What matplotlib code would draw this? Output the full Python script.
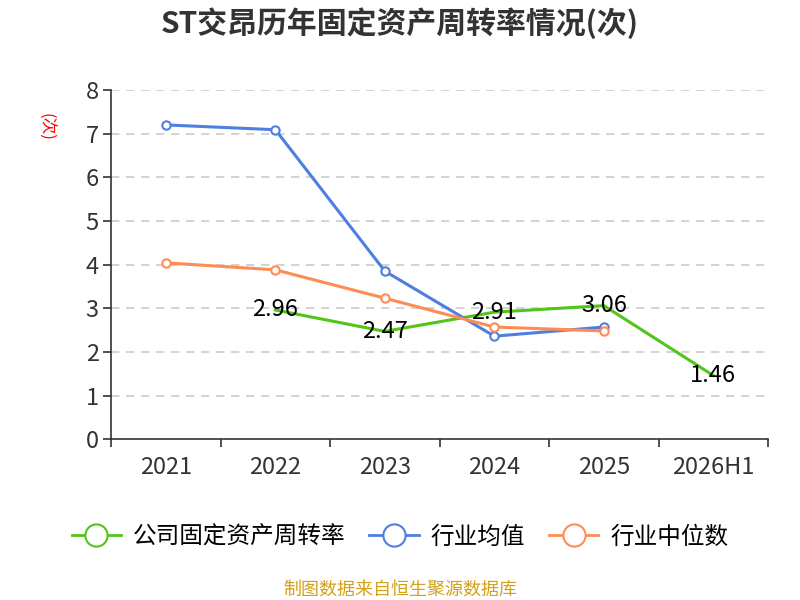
import matplotlib
matplotlib.use('Agg')
import matplotlib.pyplot as plt
from matplotlib.lines import Line2D

plt.rcParams['font.family'] = ['Noto Sans CJK SC', 'DejaVu Sans']

# 数据
years = ['2021', '2022', '2023', '2024', '2025', '2026H1']
company = [None, 2.96, 2.47, 2.91, 3.06, 1.46]
ind_mean = [7.20, 7.09, 3.85, 2.36, 2.57]
ind_median = [4.04, 3.88, 3.23, 2.57, 2.48]

green = '#52c41a'
blue = '#4e7fe0'
orange = '#ff8c55'

fig = plt.figure(figsize=(8, 6), dpi=100)
ax = fig.add_axes([0.139, 0.268, 0.821, 0.582])

x = list(range(len(years)))
cx = [i for i, v in zip(x, company) if v is not None]
cy = [v for v in company if v is not None]

ax.plot(cx, cy, color=green, lw=2.2, zorder=3)
ax.plot(x[:len(ind_mean)], ind_mean, color=blue, lw=2.2, marker='o', ms=6,
        mfc='white', mec=blue, mew=1.5, zorder=4)
ax.plot(x[:len(ind_median)], ind_median, color=orange, lw=2.2, marker='o', ms=6,
        mfc='white', mec=orange, mew=1.5, zorder=5)

for xi, yi in zip(cx, cy):
    ax.text(xi, yi, f'{yi:.2f}', ha='center', va='center', fontsize=17,
            color='black', zorder=6)

ax.set_xlim(-0.5, len(years) - 0.5)
ax.set_ylim(0, 8)
ax.set_yticks(range(0, 9))
ax.set_xticks(x)
ax.set_xticklabels(years)
ax.set_xticks([i - 0.5 for i in range(len(years) + 1)], minor=True)
ax.tick_params(axis='x', which='major', length=0, pad=12, labelsize=17, colors='#333333')
ax.tick_params(axis='x', which='minor', length=6, width=1.2, color='#333333')
ax.tick_params(axis='y', length=6, width=1.2, color='#333333', labelsize=17,
               labelcolor='#333333', pad=3)

for s in ['top', 'right']:
    ax.spines[s].set_visible(False)
for s in ['left', 'bottom']:
    ax.spines[s].set_color('#333333')
    ax.spines[s].set_linewidth(1.2)

for yv in range(1, 9):
    ax.axhline(yv, color='#cccccc', lw=1.2, ls=(0, (5, 4)), zorder=1)

fig.text(45 / 800, 1 - 127 / 600, '(次)', color='red', fontsize=12,
         rotation=-90, ha='center', va='center')

fig.text(0.5, 0.962, 'ST交昂历年固定资产周转率情况(次)', ha='center', va='center',
         fontsize=21.5, fontweight='bold', color='#333333')

handles = [
    Line2D([0], [0], color=green, lw=2, marker='o', ms=16, mfc='white', mec=green, mew=1.5),
    Line2D([0], [0], color=blue, lw=2, marker='o', ms=16, mfc='white', mec=blue, mew=1.5),
    Line2D([0], [0], color=orange, lw=2, marker='o', ms=16, mfc='white', mec=orange, mew=1.5),
]
fig.legend(handles, ['公司固定资产周转率', '行业均值', '行业中位数'], loc='center',
           bbox_to_anchor=(0.5, 0.105), ncol=3, frameon=False, fontsize=17,
           handlelength=2.1, columnspacing=1.0, handletextpad=0.5)

fig.text(0.5, 0.018, '制图数据来自恒生聚源数据库', ha='center', va='center',
         fontsize=13, color='#d4a017')

fig.savefig('out.png', dpi=100)
